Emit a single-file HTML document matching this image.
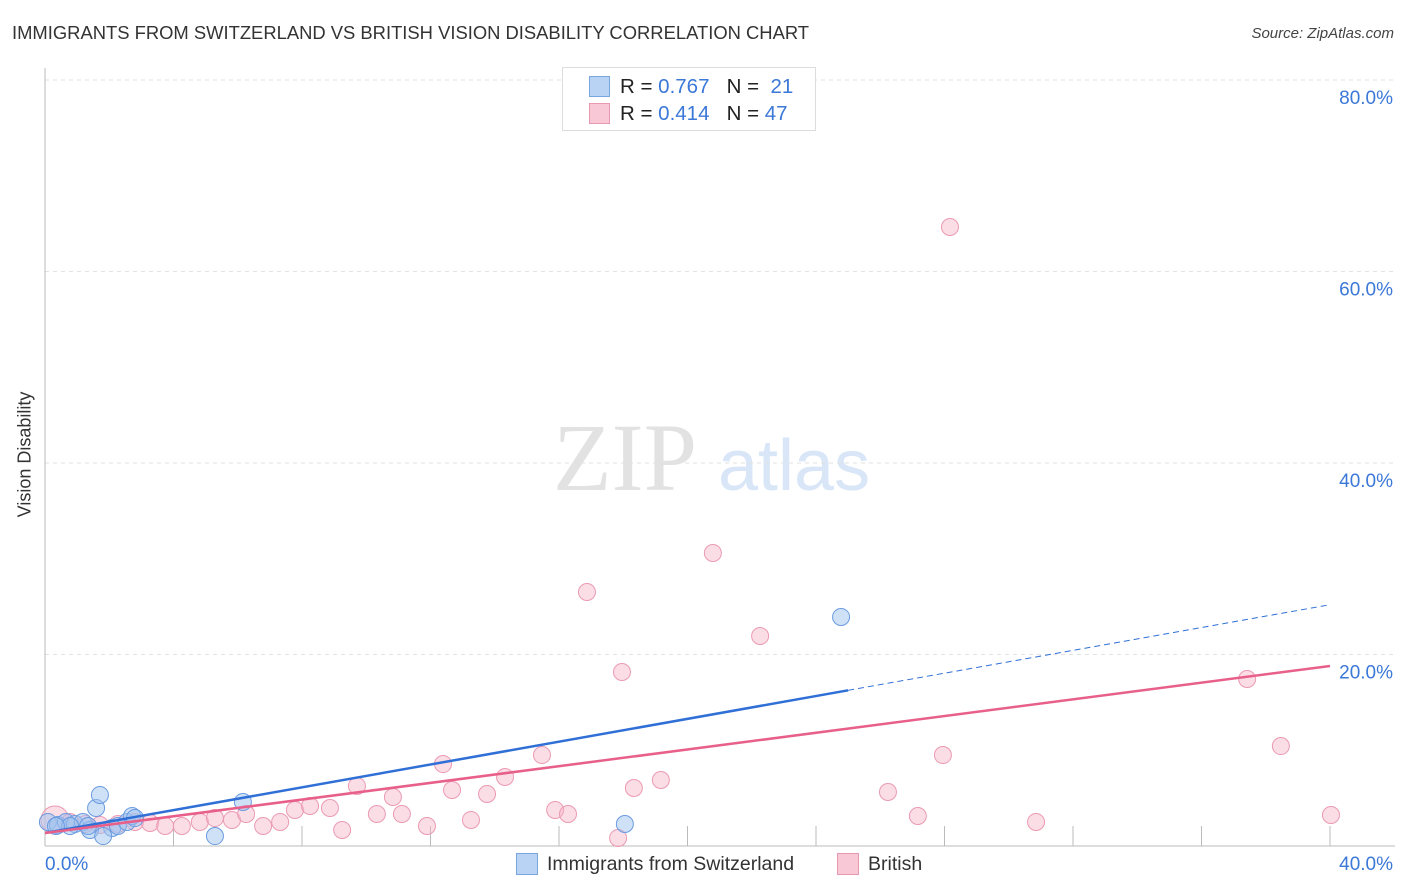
<!DOCTYPE html>
<html><head><meta charset="utf-8"><style>
body{margin:0;background:#fff;font-family:"Liberation Sans",sans-serif;}
#wrap{position:relative;width:1406px;height:892px;overflow:hidden}
.t{position:absolute;white-space:nowrap}
</style></head><body>
<div id="wrap">
<div class="t" style="left:12px;top:22px;font-size:18.4px;color:#333">IMMIGRANTS FROM SWITZERLAND VS BRITISH VISION DISABILITY CORRELATION CHART</div>
<div class="t" style="right:12px;top:25px;font-size:15px;color:#444;font-style:italic">Source: ZipAtlas.com</div>
<div class="t" style="left:-38px;top:444px;font-size:18px;color:#333;transform:rotate(-90deg)">Vision Disability</div>
<svg id="svg" width="1406" height="892" style="position:absolute;left:0;top:0"></svg>
<div style="position:absolute;left:562px;top:67px;width:252px;height:62px;border:1px solid #ddd;background:#fff">
 <div style="position:absolute;left:26px;top:8px;width:19px;height:19px;background:#b9d3f5;border:1px solid #7aa6e0"></div>
 <div class="t" style="left:57px;top:7px;font-size:20.5px;color:#222">R = <span style="color:#3b78d8">0.767</span>&nbsp;&nbsp;&nbsp;N = &nbsp;<span style="color:#3b78d8">21</span></div>
 <div style="position:absolute;left:26px;top:35px;width:19px;height:19px;background:#f8c8d6;border:1px solid #e898b0"></div>
 <div class="t" style="left:57px;top:34px;font-size:20.5px;color:#222">R = <span style="color:#3b78d8">0.414</span>&nbsp;&nbsp;&nbsp;N = <span style="color:#3b78d8">47</span></div>
</div>
<div style="position:absolute;left:516px;top:853px;width:20px;height:20px;background:#b9d3f5;border:1px solid #7aa6e0"></div>
<div class="t" style="left:547px;top:853px;font-size:19.5px;color:#333">Immigrants from Switzerland</div>
<div style="position:absolute;left:837px;top:853px;width:20px;height:20px;background:#f8c8d6;border:1px solid #e898b0"></div>
<div class="t" style="left:868px;top:853px;font-size:19.5px;color:#333">British</div>
</div>
<script>
const yTicks=[20,40,60,80];
const xTickLabels=["0.0%","40.0%"];
const blueX=[0.09,0.40,0.65,0.93,1.18,1.40,1.59,1.71,2.09,2.27,2.55,2.71,2.80,5.29,6.16,1.81,18.05,24.78,0.78,1.34,0.34];
const blueY=[2.51,2.19,2.51,2.30,2.51,1.67,3.97,5.33,1.88,2.09,2.51,3.13,2.92,1.04,4.60,1.04,2.30,23.92,2.09,2.09,2.09];
const pinkX=[0.31,0.78,1.25,1.71,2.27,2.80,3.27,3.74,4.26,4.82,5.29,5.82,6.26,6.79,7.32,7.78,8.25,8.87,9.25,9.71,10.33,10.83,11.11,11.89,12.39,12.67,13.26,13.76,14.32,15.47,15.88,16.28,16.87,17.84,17.96,18.33,19.17,20.79,22.26,26.24,27.17,27.95,28.17,30.85,37.42,38.47,40.03];
const pinkY=[2.72,2.51,2.30,2.19,2.30,2.51,2.40,2.09,2.09,2.51,2.92,2.72,3.34,2.09,2.51,3.76,4.18,3.97,1.67,6.27,3.34,5.12,3.34,2.09,8.56,5.85,2.72,5.43,7.21,9.50,3.76,3.34,26.53,0.84,18.17,6.06,6.89,30.60,21.93,5.64,3.13,9.50,64.65,2.51,17.44,10.44,3.24];
const blueTrend=[1.36,25.2];
const pinkTrend=[1.36,18.8];
const X=v=>45+v/40*1285, Y=v=>846-v/20*191.5;
const svg=document.getElementById('svg');const NS='http://www.w3.org/2000/svg';
function mk(tag,at,name){const e=document.createElementNS(NS,tag);for(const k in at)e.setAttribute(k,at[k]);


svg.appendChild(e);return e;}
let w=mk('text',{x:553,y:490,'font-size':96,'font-family':'Liberation Serif,serif',fill:'#e2e2e2'},'watermark-zip');w.textContent='ZIP';
w=mk('text',{x:718,y:490,'font-size':72,'font-family':'Liberation Sans,sans-serif',fill:'#d8e6f7'},'watermark-atlas');w.textContent='atlas';
yTicks.forEach(t=>{mk('line',{x1:45,x2:1395,y1:Y(t),y2:Y(t),stroke:'#e2e2e2','stroke-dasharray':'4,4'},'gridline');
const l=mk('text',{x:1393,y:Y(t)+24,'text-anchor':'end','font-size':19,fill:'#3b78d8'},'y-tick-label');l.textContent=t.toFixed(1)+'%';});
mk('line',{x1:45,x2:45,y1:68,y2:846,stroke:'#bbb'},'y-axis');
mk('line',{x1:45,x2:1395,y1:846,y2:846,stroke:'#bbb'},'x-axis');
for(let i=1;i<=10;i++)mk('line',{x1:X(i*4),x2:X(i*4),y1:826,y2:846,stroke:'#bbb'},'x-tick');
let tl=mk('text',{x:45,y:870,'font-size':19,fill:'#3b78d8'},'x-tick-label');tl.textContent=xTickLabels[0];
tl=mk('text',{x:1393,y:870,'text-anchor':'end','font-size':19,fill:'#3b78d8'},'x-tick-label');tl.textContent=xTickLabels[1];
pinkX.forEach((x,i)=>mk('circle',{cx:X(x),cy:Y(pinkY[i]),r:i==0?14:8.5,fill:'rgba(246,180,200,0.45)',stroke:'#eb9ab3','stroke-width':1},'british-point'));
blueX.forEach((x,i)=>mk('circle',{cx:X(x),cy:Y(blueY[i]),r:8.5,fill:'rgba(160,196,240,0.5)',stroke:'#6a9be0','stroke-width':1},'switzerland-point'));
const by=x=>blueTrend[0]+(blueTrend[1]-blueTrend[0])*x/40;
mk('line',{x1:X(0),y1:Y(by(0)),x2:X(25),y2:Y(by(25)),stroke:'#2f6fd6','stroke-width':2.5},'switzerland-trendline');
mk('line',{x1:X(25),y1:Y(by(25)),x2:X(40),y2:Y(by(40)),stroke:'#2f6fd6','stroke-width':1,'stroke-dasharray':'6,4'},'switzerland-trendline-extension');
mk('line',{x1:X(0),y1:Y(pinkTrend[0]),x2:X(40),y2:Y(pinkTrend[1]),stroke:'#e8608a','stroke-width':2.5},'british-trendline');
</script>
</body></html>
